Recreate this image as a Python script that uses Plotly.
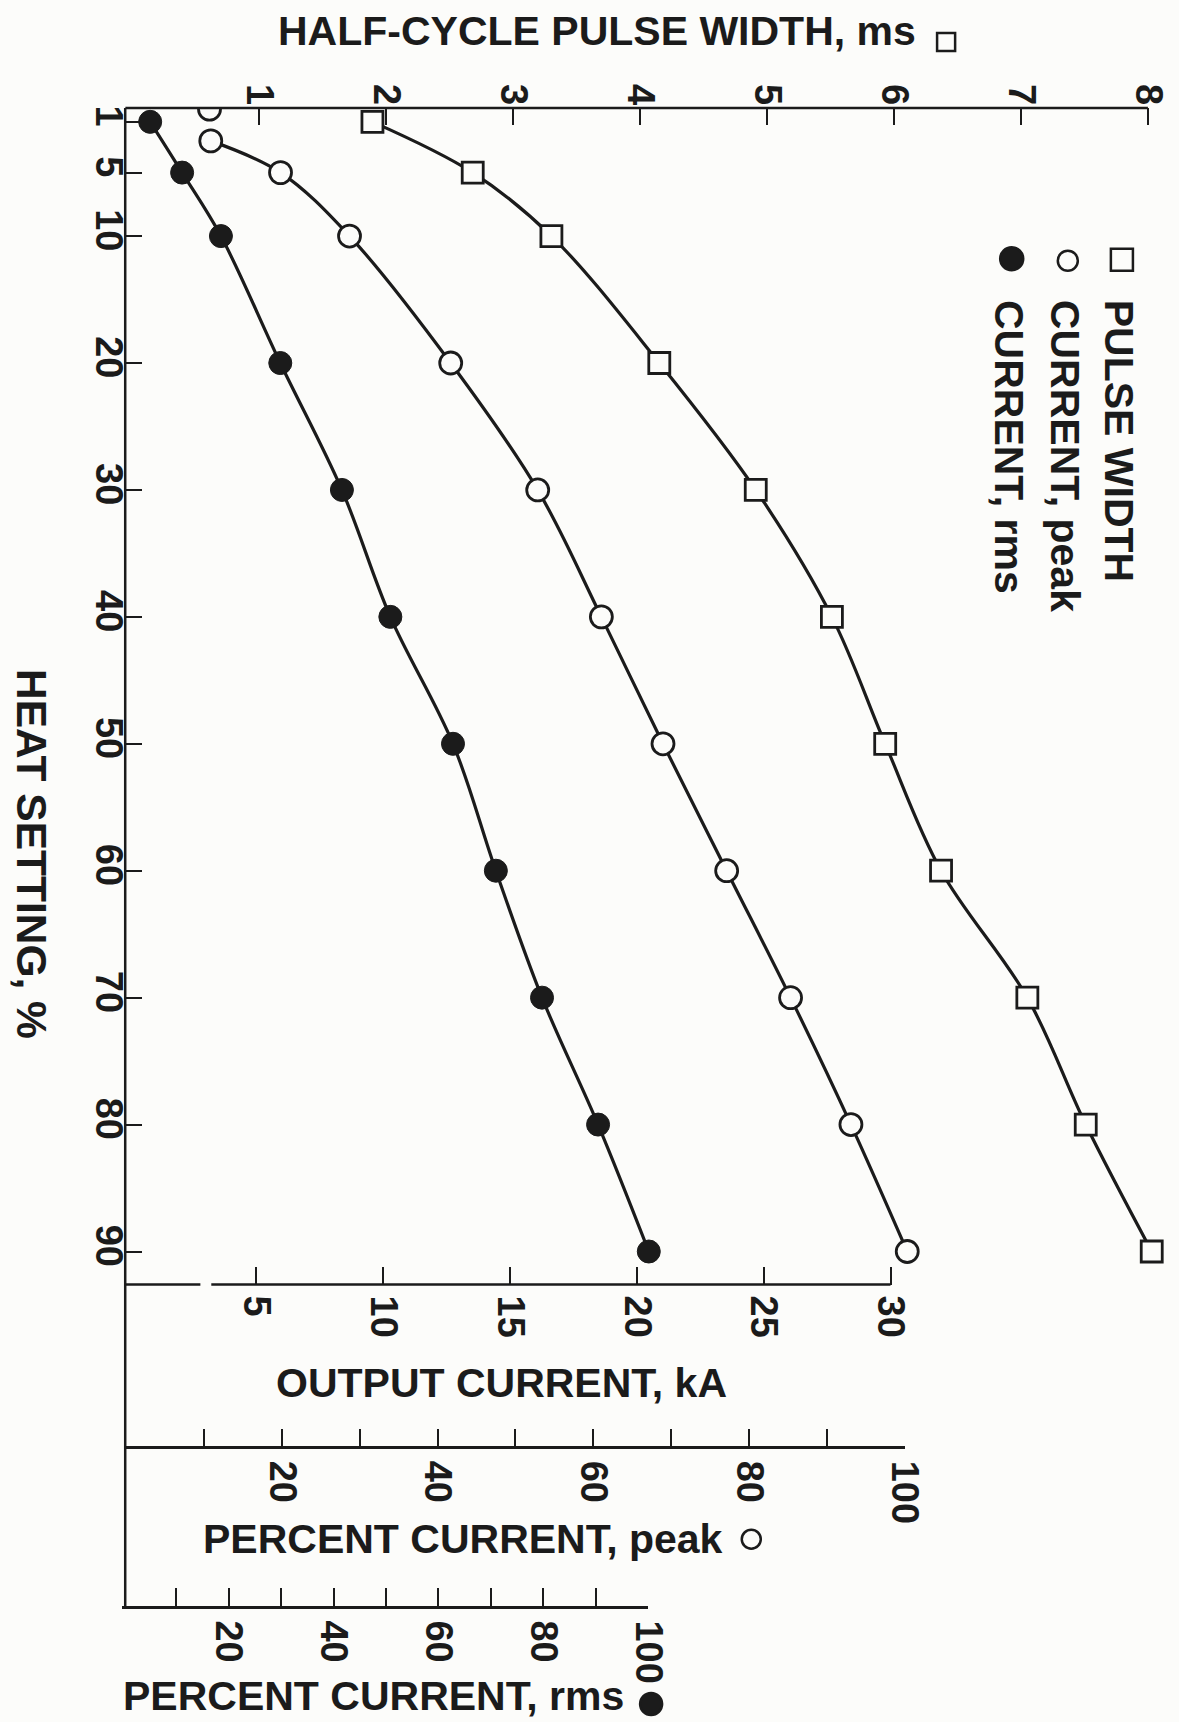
import plotly.graph_objects as go

# Heat setting (%) for each measurement
heat_setting = [1, 5, 10, 20, 30, 40, 50, 60, 70, 80, 90]

# Half-cycle pulse width, ms (open squares)
pulse_width_ms = [1.89, 2.68, 3.30, 4.15, 4.91, 5.51, 5.93, 6.37, 7.05, 7.51, 8.03]

# Peak output current, kA (open circles)
peak_heat = [2.5, 5, 10, 20, 30, 40, 50, 60, 70, 80, 90]
peak_current_ka = [3.2, 5.95, 8.67, 12.66, 16.09, 18.6, 21.03, 23.54, 26.06, 28.44, 30.66]
peak_extra_heat = [0]
peak_extra_ka = [3.15]

# RMS output current, kA (filled circles)
rms_current_ka = [0.81, 2.07, 3.60, 5.94, 8.37, 10.28, 12.75, 14.44, 16.26, 18.47, 20.47]

# Axis ticks
heat_ticks = [1, 5, 10, 20, 30, 40, 50, 60, 70, 80, 90]
ms_ticks = [1, 2, 3, 4, 5, 6, 7, 8]
ka_ticks = [5, 10, 15, 20, 25, 30]
pct_ticks = [10, 20, 30, 40, 50, 60, 70, 80, 90, 100]
pct_labels = ["", "20", "", "40", "", "60", "", "80", "", "100"]

# layout grid is laid out on a 1179 x 1722 base
W, H = 1179, 1722
FIG_W = 1203
INK = "#1b1b1b"
BG = "#fcfcfa"
FONT = "Liberation Sans"

MS_MIN, MS_MAX = -0.058, 8.229
KA_MIN, KA_MAX = -0.174, 41.296


def px(x):
    return x / W


def py(y):
    return 1 - y / H


tick_font = dict(family=FONT, size=38, color=INK, weight="bold")
title_font = dict(family=FONT, size=41, color=INK, weight="bold")
legend_font = dict(family=FONT, size=41, color=INK, weight="bold")

fig = go.Figure()

line_style = dict(color=INK, width=3.2, shape="spline", smoothing=1.0)
marker_line = dict(color=INK, width=2.8)

fig.add_trace(go.Scatter(
    x=pulse_width_ms, y=heat_setting, xaxis="x", yaxis="y",
    mode="lines+markers", line=line_style,
    marker=dict(symbol="square", size=21, color=BG, line=marker_line),
    name="PULSE WIDTH", showlegend=False, hoverinfo="skip",
))
fig.add_trace(go.Scatter(
    x=peak_current_ka, y=peak_heat, xaxis="x2", yaxis="y",
    mode="lines+markers", line=line_style,
    marker=dict(symbol="circle", size=22, color=BG, line=marker_line),
    name="CURRENT, peak", showlegend=False, hoverinfo="skip",
))
fig.add_trace(go.Scatter(
    x=peak_extra_ka, y=peak_extra_heat, xaxis="x2", yaxis="y",
    mode="markers", cliponaxis=True,
    marker=dict(symbol="circle", size=22, color=BG, line=marker_line),
    showlegend=False, hoverinfo="skip",
))
fig.add_trace(go.Scatter(
    x=rms_current_ka, y=heat_setting, xaxis="x2", yaxis="y",
    mode="lines+markers", line=line_style,
    marker=dict(symbol="circle", size=23, color=INK, line=dict(color=INK, width=1)),
    name="CURRENT, rms", showlegend=False, hoverinfo="skip",
))
# empty traces so the two percent scales are laid out
fig.add_trace(go.Scatter(x=[], y=[], xaxis="x3", yaxis="y", showlegend=False, hoverinfo="skip"))
fig.add_trace(go.Scatter(x=[], y=[], xaxis="x4", yaxis="y", showlegend=False, hoverinfo="skip"))

common_axis = dict(
    showgrid=False, zeroline=False, ticks="inside", tickwidth=2.2,
    tickcolor=INK, tickfont=tick_font, tickangle=90, fixedrange=True,
)

fig.update_layout(
    width=FIG_W, height=H, autosize=False,
    margin=dict(l=0, r=0, t=0, b=0, pad=0),
    paper_bgcolor=BG, plot_bgcolor="rgba(0,0,0,0)",
    showlegend=False,
    xaxis=dict(
        **common_axis,
        domain=[px(125), px(1175)], range=[MS_MIN, MS_MAX], side="top", anchor="y",
        tickvals=ms_ticks, ticklen=17, showline=False, ticklabelstandoff=-4,
    ),
    xaxis2=dict(
        **common_axis,
        overlaying="x", side="bottom", anchor="y", range=[KA_MIN, KA_MAX],
        tickvals=ka_ticks, ticklen=18, showline=False, ticklabelstandoff=10,
    ),
    xaxis3=dict(
        **common_axis,
        domain=[px(125), px(903)], range=[-0.13, 100], side="bottom",
        anchor="free", position=py(1447), tickvals=pct_ticks, ticktext=pct_labels,
        ticklen=18, showline=True, linewidth=2.5, linecolor=INK, ticklabelstandoff=4,
    ),
    xaxis4=dict(
        **common_axis,
        domain=[px(122), px(647)], range=[-0.33, 100], side="bottom",
        anchor="free", position=py(1607), tickvals=pct_ticks, ticktext=pct_labels,
        ticklen=18, showline=True, linewidth=2.5, linecolor=INK, ticklabelstandoff=4,
    ),
    yaxis=dict(
        **common_axis,
        domain=[py(1284), py(106)], range=[92.6, -0.1], side="left", anchor="x",
        tickvals=heat_ticks, ticklen=17, showline=False, ticklabelstandoff=-10,
    ),
)

shapes = [
    # left frame line running down through all the current scales
    dict(type="line", xref="paper", yref="paper", x0=px(125), x1=px(125),
         y0=py(106), y1=py(1607), line=dict(color=INK, width=2.5)),
    # pulse-width scale line along the top, ending at 8 ms
    dict(type="line", xref="x", yref="paper", x0=MS_MIN, x1=8,
         y0=py(106), y1=py(106), line=dict(color=INK, width=2.5)),
    # output current (kA) baseline, with its small break
    dict(type="line", xref="x2", yref="paper", x0=KA_MIN, x1=2.79,
         y0=py(1284), y1=py(1284), line=dict(color=INK, width=2.5)),
    dict(type="line", xref="x2", yref="paper", x0=3.22, x1=30,
         y0=py(1284), y1=py(1284), line=dict(color=INK, width=2.5)),
]


def square(cx, cy, s, filled=False):
    return dict(type="rect", xref="paper", yref="paper",
                x0=px(cx - s / 2), x1=px(cx + s / 2), y0=py(cy + s / 2), y1=py(cy - s / 2),
                line=dict(color=INK, width=2.5), fillcolor=INK if filled else BG)


def disc(cx, cy, d, filled=False):
    return dict(type="circle", xref="paper", yref="paper",
                x0=px(cx - d / 2), x1=px(cx + d / 2), y0=py(cy + d / 2), y1=py(cy - d / 2),
                line=dict(color=INK, width=2.5), fillcolor=INK if filled else BG)


# symbols beside the axis titles
shapes += [
    square(944.5, 40, 18),
    disc(750, 1539, 19),
    disc(650, 1704, 22, filled=True),
]
# legend symbols
shapes += [
    square(1120, 258, 22),
    disc(1066, 259, 20),
    disc(1010, 257, 23, filled=True),
]
fig.update_layout(shapes=shapes)

annotations = [
    dict(text="HALF-CYCLE PULSE WIDTH, ms", x=px(596), y=py(29), font=title_font),
    dict(text="OUTPUT CURRENT, kA", x=px(501), y=py(1383), font=title_font),
    dict(text="PERCENT CURRENT, peak", x=px(462), y=py(1539), font=title_font),
    dict(text="PERCENT CURRENT, rms", x=px(373), y=py(1721), yanchor="bottom",
         font=title_font),
    dict(text="HEAT SETTING, %", x=px(32), y=py(853), textangle=90,
         font=dict(family=FONT, size=42.5, color=INK, weight="bold")),
    # legend entries
    dict(text="PULSE WIDTH", x=px(1117), y=py(296), textangle=90, yanchor="top",
         font=legend_font),
    dict(text="CURRENT, peak", x=px(1064), y=py(296), textangle=90, yanchor="top",
         font=legend_font),
    dict(text="CURRENT, rms", x=px(1008), y=py(296), textangle=90, yanchor="top",
         font=legend_font),
]
for a in annotations:
    a.setdefault("xref", "paper")
    a.setdefault("yref", "paper")
    a.setdefault("showarrow", False)
    a.setdefault("xanchor", "center")
    a.setdefault("yanchor", "middle")
fig.update_layout(annotations=annotations)

fig.write_html("out.html", config={"responsive": False})
